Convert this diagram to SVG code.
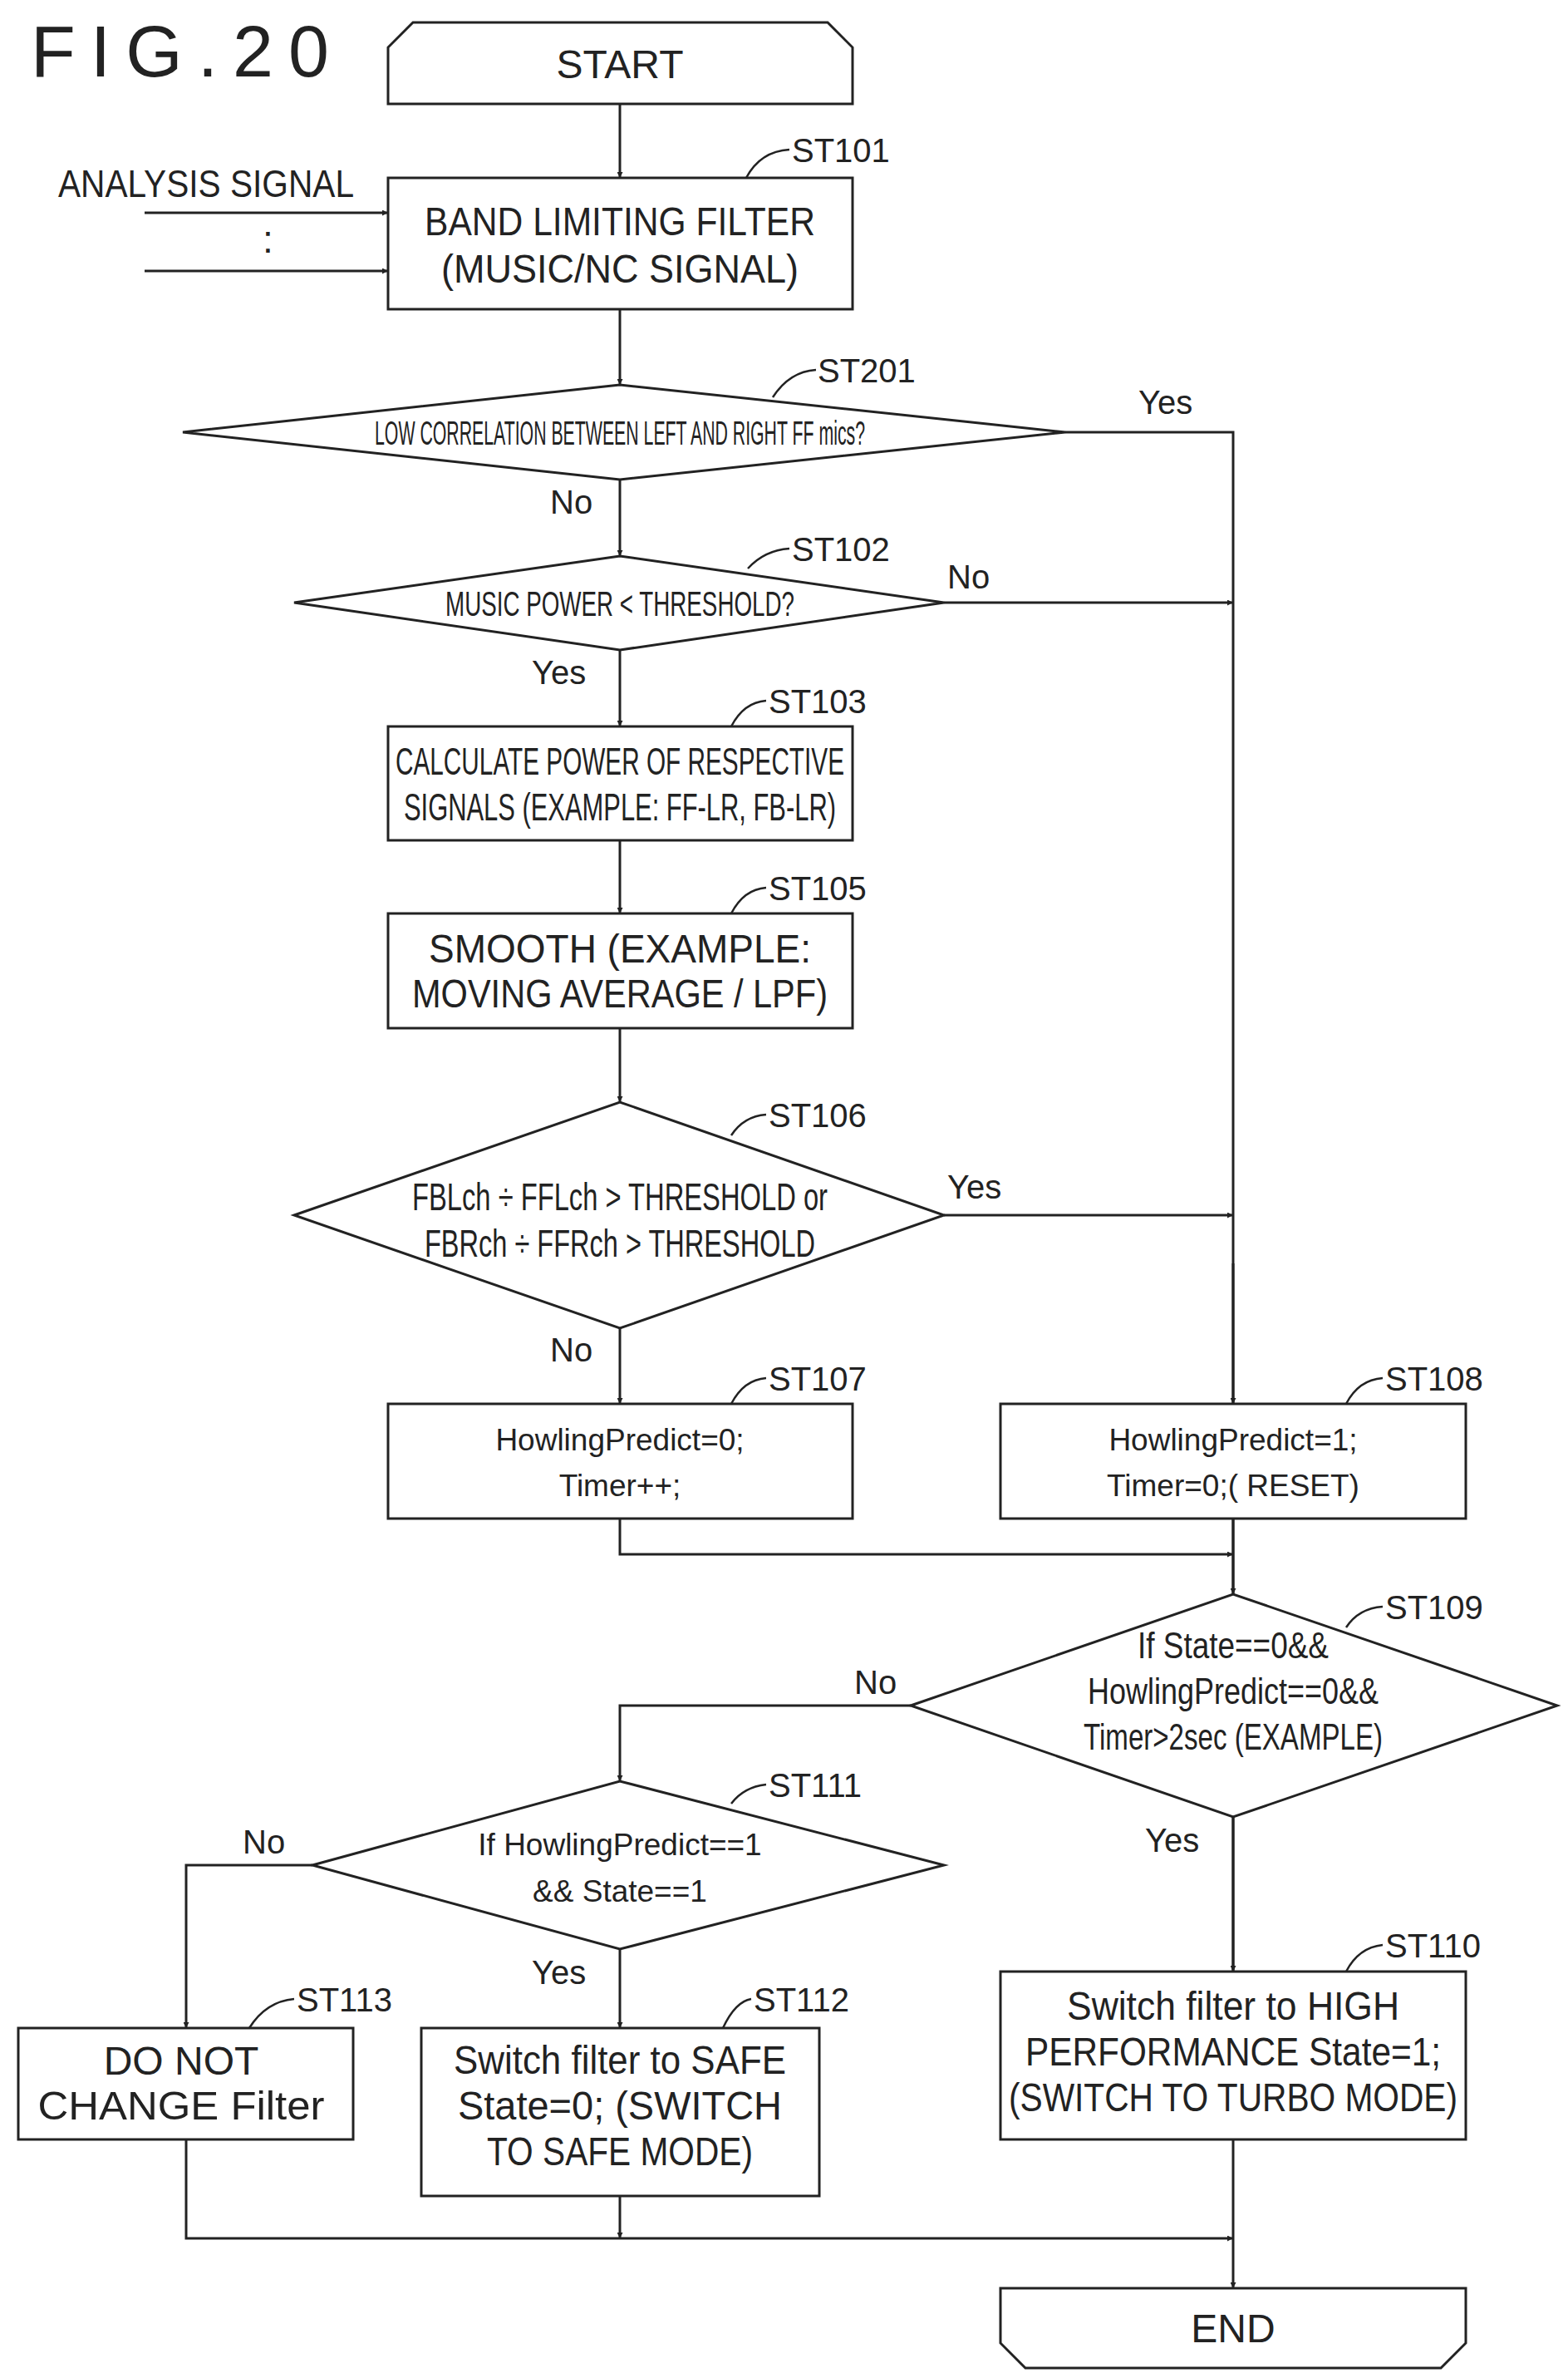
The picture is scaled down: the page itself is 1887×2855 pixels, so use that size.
<svg xmlns="http://www.w3.org/2000/svg" width="1887" height="2855" viewBox="0 0 1887 2855">
<style>
.s{fill:none;stroke:#222;stroke-width:3}
.b{fill:#fff;stroke:#222;stroke-width:3}
.t{font-family:"Liberation Sans",sans-serif;font-size:48px;fill:#222;text-anchor:middle}
.l{font-family:"Liberation Sans",sans-serif;font-size:40px;fill:#222}
.c{fill:none;stroke:#222;stroke-width:2.5}
</style>
<defs><marker id="a" viewBox="0 0 10 10" refX="10" refY="5" markerWidth="7" markerHeight="7" markerUnits="userSpaceOnUse" orient="auto"><path d="M0,0L10,5L0,10z" fill="#222"/></marker></defs>
<rect width="1887" height="2855" fill="#fff"/>
<text x="37" y="92" font-family="Liberation Sans,sans-serif" font-size="88" fill="#222" letter-spacing="18">FIG.20</text>
<g id="connectors" class="s">
<path d="M746 125V214" marker-end="url(#a)"/>
<path d="M174 256H467" marker-end="url(#a)"/>
<path d="M174 326H467" marker-end="url(#a)"/>
<path d="M746 372V463" marker-end="url(#a)"/>
<path d="M1282 520H1484V2753" marker-end="url(#a)"/>
<path d="M746 577V669" marker-end="url(#a)"/>
<path d="M1136 725H1484" marker-end="url(#a)"/>
<path d="M746 782V874" marker-end="url(#a)"/>
<path d="M746 1011V1099" marker-end="url(#a)"/>
<path d="M746 1237V1326" marker-end="url(#a)"/>
<path d="M1136 1462H1484" marker-end="url(#a)"/>
<path d="M746 1598V1689" marker-end="url(#a)"/>
<path d="M1484 1520V1689" marker-end="url(#a)"/>
<path d="M746 1827V1870H1484" marker-end="url(#a)"/>
<path d="M1484 1827V1918" marker-end="url(#a)"/>
<path d="M1096 2052H746V2143" marker-end="url(#a)"/>
<path d="M1484 2186V2372" marker-end="url(#a)"/>
<path d="M376 2244H224V2440" marker-end="url(#a)"/>
<path d="M746 2345V2440" marker-end="url(#a)"/>
<path d="M224 2574V2693H1484" marker-end="url(#a)"/>
<path d="M746 2642V2693" marker-end="url(#a)"/>
</g>
<g id="start"><path class="b" d="M497 27H996L1026 57V125H467V57Z"/><text class="t" x="746" y="94">START</text></g>
<g id="input"><text class="l" x="70" y="237" style="font-size:46px" textLength="356" lengthAdjust="spacingAndGlyphs">ANALYSIS SIGNAL</text><text class="l" x="316" y="304" style="font-size:46px">:</text></g>
<g id="st101"><rect class="b" x="467" y="214" width="559" height="158"/><text class="t" x="746" y="283" textLength="470" lengthAdjust="spacingAndGlyphs">BAND LIMITING FILTER</text><text class="t" x="746" y="340" textLength="430" lengthAdjust="spacingAndGlyphs">(MUSIC/NC SIGNAL)</text><path class="c" d="M898 214Q915 182 950 180"/><text class="l" x="953" y="195">ST101</text></g>
<g id="st201"><path class="b" d="M220 520L746 463L1282 520L746 577Z"/><text class="t" x="746" y="535" style="font-size:40px" textLength="590" lengthAdjust="spacingAndGlyphs">LOW CORRELATION BETWEEN LEFT AND RIGHT FF mics?</text><path class="c" d="M930 478Q950 447 982 445"/><text class="l" x="984" y="460">ST201</text><text class="l" x="1370" y="498">Yes</text><text class="l" x="662" y="618">No</text></g>
<g id="st102"><path class="b" d="M354 725L746 669L1136 725L746 782Z"/><text class="t" x="746" y="741" style="font-size:42px" textLength="420" lengthAdjust="spacingAndGlyphs">MUSIC POWER &lt; THRESHOLD?</text><path class="c" d="M900 684Q920 662 950 660"/><text class="l" x="1140" y="708">No</text><text class="l" x="953" y="675">ST102</text><text class="l" x="640" y="823">Yes</text></g>
<g id="st103"><rect class="b" x="467" y="874" width="559" height="137"/><text class="t" x="746" y="932" style="font-size:46px" textLength="540" lengthAdjust="spacingAndGlyphs">CALCULATE POWER OF RESPECTIVE</text><text class="t" x="746" y="987" style="font-size:46px" textLength="520" lengthAdjust="spacingAndGlyphs">SIGNALS (EXAMPLE: FF-LR, FB-LR)</text><path class="c" d="M880 874Q895 845 922 843"/><text class="l" x="925" y="858">ST103</text></g>
<g id="st105"><rect class="b" x="467" y="1099" width="559" height="138"/><text class="t" x="746" y="1158" textLength="460" lengthAdjust="spacingAndGlyphs">SMOOTH (EXAMPLE:</text><text class="t" x="746" y="1212" textLength="500" lengthAdjust="spacingAndGlyphs">MOVING AVERAGE / LPF)</text><path class="c" d="M880 1099Q895 1070 922 1068"/><text class="l" x="925" y="1083">ST105</text></g>
<g id="st106"><path class="b" d="M354 1462L746 1326L1136 1462L746 1598Z"/><text class="t" x="746" y="1456" style="font-size:46px" textLength="500" lengthAdjust="spacingAndGlyphs">FBLch ÷ FFLch &gt; THRESHOLD or</text><text class="t" x="746" y="1512" style="font-size:46px" textLength="470" lengthAdjust="spacingAndGlyphs">FBRch ÷ FFRch &gt; THRESHOLD</text><path class="c" d="M880 1366Q895 1343 922 1341"/><text class="l" x="925" y="1356">ST106</text><text class="l" x="1140" y="1442">Yes</text><text class="l" x="662" y="1638">No</text></g>
<g id="st107"><rect class="b" x="467" y="1689" width="559" height="138"/><text class="t" x="746" y="1745" style="font-size:37px">HowlingPredict=0;</text><text class="t" x="746" y="1800" style="font-size:37px">Timer++;</text><path class="c" d="M880 1689Q895 1660 922 1658"/><text class="l" x="925" y="1673">ST107</text></g>
<g id="st108"><rect class="b" x="1204" y="1689" width="560" height="138"/><text class="t" x="1484" y="1745" style="font-size:37px">HowlingPredict=1;</text><text class="t" x="1484" y="1800" style="font-size:37px">Timer=0;( RESET)</text><path class="c" d="M1620 1689Q1635 1660 1664 1658"/><text class="l" x="1667" y="1673">ST108</text></g>
<g id="st109"><path class="b" d="M1096 2052L1484 1918L1874 2052L1484 2186Z"/><text class="t" x="1484" y="1995" style="font-size:44px" textLength="230" lengthAdjust="spacingAndGlyphs">If State==0&amp;&amp;</text><text class="t" x="1484" y="2050" style="font-size:44px" textLength="350" lengthAdjust="spacingAndGlyphs">HowlingPredict==0&amp;&amp;</text><text class="t" x="1484" y="2105" style="font-size:44px" textLength="360" lengthAdjust="spacingAndGlyphs">Timer&gt;2sec (EXAMPLE)</text><path class="c" d="M1620 1958Q1635 1935 1664 1933"/><text class="l" x="1667" y="1948">ST109</text><text class="l" x="1028" y="2038">No</text><text class="l" x="1378" y="2228">Yes</text></g>
<g id="st111"><path class="b" d="M376 2244L746 2143L1136 2244L746 2345Z"/><text class="t" x="746" y="2232" style="font-size:37px">If HowlingPredict==1</text><text class="t" x="746" y="2288" style="font-size:37px">&amp;&amp; State==1</text><path class="c" d="M880 2170Q895 2150 922 2147"/><text class="l" x="925" y="2162">ST111</text><text class="l" x="292" y="2230">No</text><text class="l" x="640" y="2387">Yes</text></g>
<g id="st113"><rect class="b" x="22" y="2440" width="403" height="134"/><text class="t" x="218" y="2496">DO NOT</text><text class="t" x="218" y="2550" textLength="345" lengthAdjust="spacingAndGlyphs">CHANGE Filter</text><path class="c" d="M300 2440Q320 2408 354 2405"/><text class="l" x="357" y="2420">ST113</text></g>
<g id="st112"><rect class="b" x="507" y="2440" width="479" height="202"/><text class="t" x="746" y="2495" textLength="400" lengthAdjust="spacingAndGlyphs">Switch filter to SAFE</text><text class="t" x="746" y="2550" textLength="390" lengthAdjust="spacingAndGlyphs">State=0; (SWITCH</text><text class="t" x="746" y="2605" textLength="320" lengthAdjust="spacingAndGlyphs">TO SAFE MODE)</text><path class="c" d="M870 2440Q885 2408 904 2405"/><text class="l" x="907" y="2420">ST112</text></g>
<g id="st110"><rect class="b" x="1204" y="2372" width="560" height="202"/><text class="t" x="1484" y="2430" textLength="400" lengthAdjust="spacingAndGlyphs">Switch filter to HIGH</text><text class="t" x="1484" y="2485" textLength="500" lengthAdjust="spacingAndGlyphs">PERFORMANCE State=1;</text><text class="t" x="1484" y="2540" textLength="540" lengthAdjust="spacingAndGlyphs">(SWITCH TO TURBO MODE)</text><path class="c" d="M1620 2372Q1635 2343 1664 2340"/><text class="l" x="1667" y="2355">ST110</text></g>
<g id="end"><path class="b" d="M1204 2753H1764V2819L1734 2849H1234L1204 2819Z"/><text class="t" x="1484" y="2818">END</text></g>
</svg>
